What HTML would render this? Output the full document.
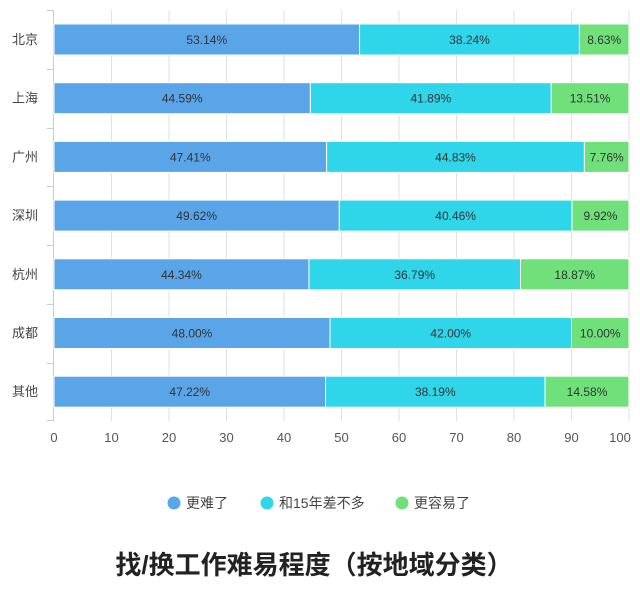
<!DOCTYPE html>
<html><head><meta charset="utf-8"><style>
body{margin:0;background:#fff;}
svg text{font-family:"Liberation Sans","Noto Sans CJK SC",sans-serif;}
</style></head><body>
<svg width="640" height="601" viewBox="0 0 640 601" xmlns="http://www.w3.org/2000/svg">
<g stroke="#e2e2e2" stroke-width="1">
<line x1="111.5" y1="10" x2="111.5" y2="421"/><line x1="169" y1="10" x2="169" y2="421"/>
<line x1="226.5" y1="10" x2="226.5" y2="421"/><line x1="284" y1="10" x2="284" y2="421"/>
<line x1="341.5" y1="10" x2="341.5" y2="421"/><line x1="399" y1="10" x2="399" y2="421"/>
<line x1="456.5" y1="10" x2="456.5" y2="421"/><line x1="514" y1="10" x2="514" y2="421"/>
<line x1="571.5" y1="10" x2="571.5" y2="421"/><line x1="629" y1="10" x2="629" y2="421"/>
</g>
<g stroke="#cccccc" stroke-width="1">
<line x1="53.5" y1="10" x2="53.5" y2="421"/>
<line x1="47" y1="10.5" x2="54" y2="10.5"/><line x1="47" y1="69.5" x2="54" y2="69.5"/>
<line x1="47" y1="128.5" x2="54" y2="128.5"/><line x1="47" y1="186.5" x2="54" y2="186.5"/>
<line x1="47" y1="245.5" x2="54" y2="245.5"/><line x1="47" y1="304.5" x2="54" y2="304.5"/>
<line x1="47" y1="363.5" x2="54" y2="363.5"/><line x1="47" y1="420.5" x2="54" y2="420.5"/>
</g>
<g id="bars" font-size="12" fill="#333" text-anchor="middle"></g>
<g font-size="13" fill="#555" text-anchor="middle">
<text x="54" y="442">0</text><text x="111.5" y="442">10</text><text x="169" y="442">20</text>
<text x="226.5" y="442">30</text><text x="284" y="442">40</text><text x="341.5" y="442">50</text>
<text x="399" y="442">60</text><text x="456.5" y="442">70</text><text x="514" y="442">80</text>
<text x="571.5" y="442">90</text><text x="620" y="442">100</text>
</g>
<g font-size="14" fill="#444">
<circle cx="174" cy="503" r="6.5" fill="#5aa5e8"/><text x="186" y="508">更难了</text>
<circle cx="267" cy="503" r="6.5" fill="#2fd6ea"/><text x="279" y="508">和15年差不多</text>
<circle cx="402" cy="503" r="6.5" fill="#6fe07a"/><text x="414" y="508">更容易了</text>
</g>
<text x="314" y="574" font-size="26" font-weight="bold" fill="#222" text-anchor="middle">找/换工作难易程度（按地域分类）</text>
</svg>
<script>
var d=[["北京",53.14,38.24,8.63],["上海",44.59,41.89,13.51],["广州",47.41,44.83,7.76],["深圳",49.62,40.46,9.92],["杭州",44.34,36.79,18.87],["成都",48.00,42.00,10.00],["其他",47.22,38.19,14.58]];
var g=document.getElementById('bars'),ns="http://www.w3.org/2000/svg",s="";
var cols=["#5aa5e8","#2fd6ea","#6fe07a"];
d.forEach(function(r,i){var y=24+i*58.7,x=54;
 s+='<text x="25" y="'+(y+20)+'" font-size="13" fill="#444">'+r[0]+'</text>';
 for(var k=1;k<4;k++){var w=r[k]*5.75;if(x+w>629)w=629-x;
  s+='<rect x="'+x+'" y="'+y+'" width="'+w+'" height="31" fill="'+cols[k-1]+'" stroke="#fff" stroke-width="1"/>';
  s+='<text x="'+(x+w/2)+'" y="'+(y+20)+'">'+r[k].toFixed(2)+'%</text>';x+=w;}
});
g.innerHTML=s;
</script>
</body></html>
